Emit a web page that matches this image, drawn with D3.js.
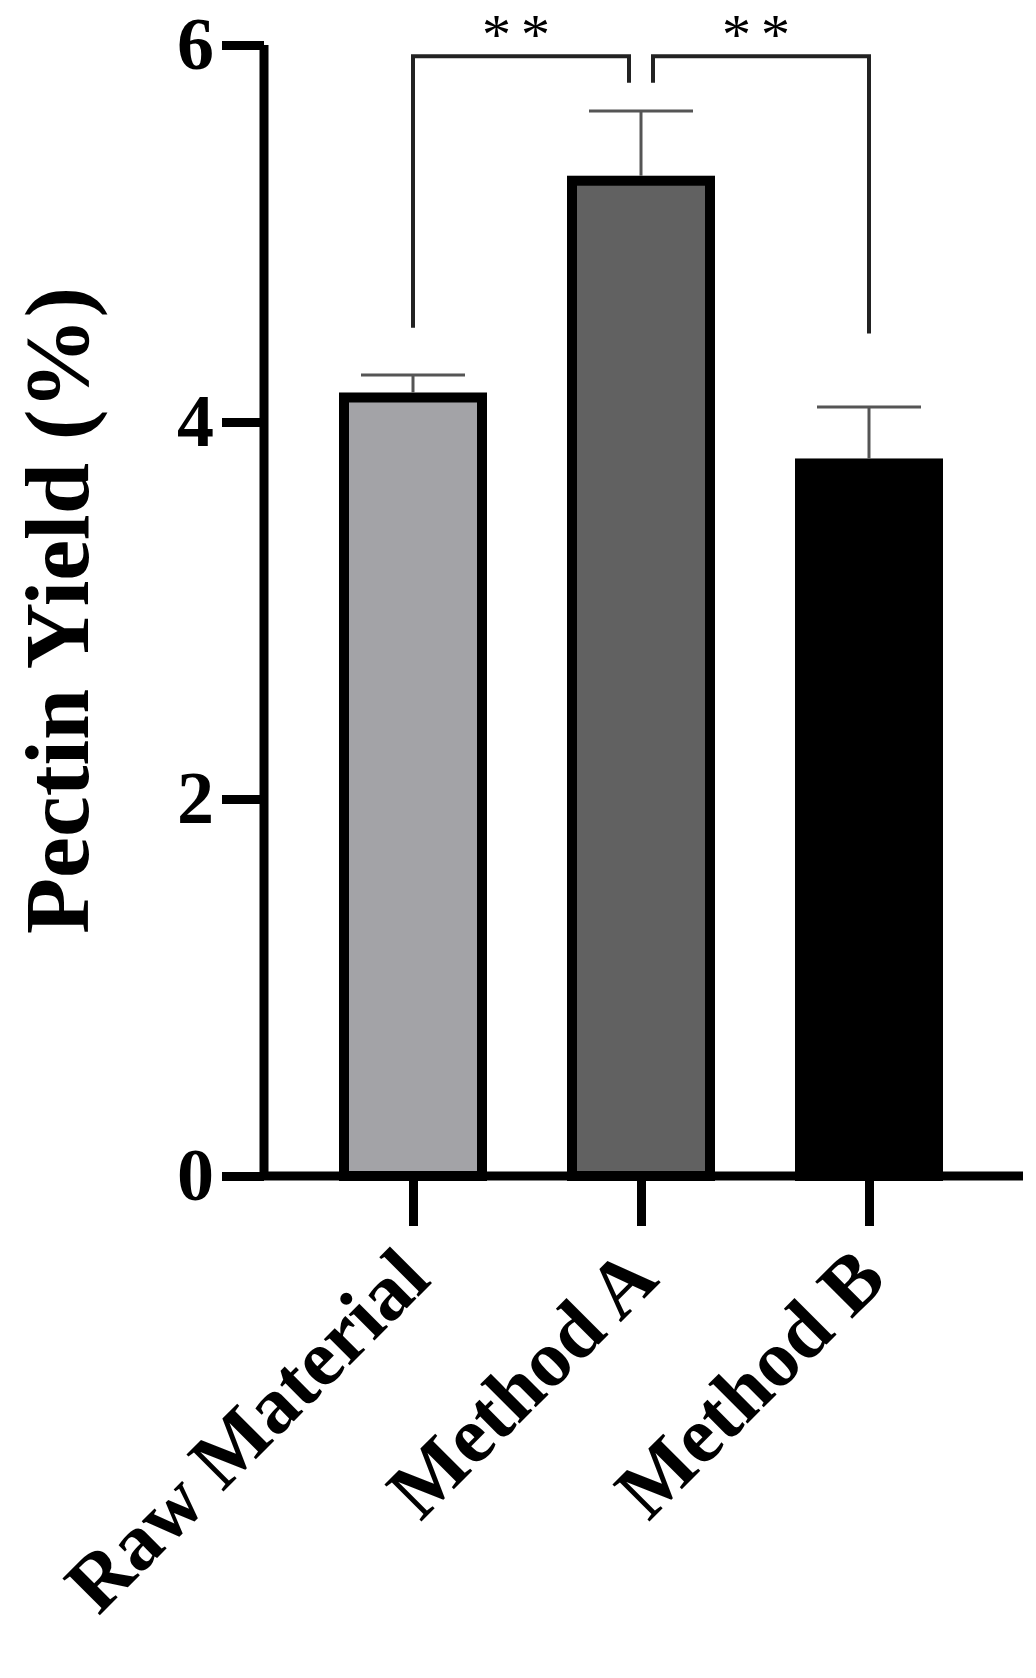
<!DOCTYPE html>
<html><head><meta charset="utf-8">
<script src="https://cdn.jsdelivr.net/npm/d3@7"></script>
<style>body{margin:0;background:#fff}</style>
</head><body>
<div id="chart"></div>
<script>
var categories = ['Raw Material', 'Method A', 'Method B'];
var values = [4.13, 5.28, 3.78];
var errors = [0.12, 0.37, 0.30];
var fills = ['#a3a3a7', '#616161', '#000000'];
var yTicks = [0, 2, 4, 6];

var width = 1036, height = 1678;
var svg = d3.select('#chart').append('svg').attr('width', width).attr('height', height);
var font = '"Liberation Serif", "DejaVu Serif", serif';

var y = d3.scaleLinear().domain([0, 6]).range([1176, 45]);
var x = d3.scalePoint().domain(categories).range([413, 869]);
var barW = 138;

// bars
svg.selectAll('rect.bar').data(values).enter().append('rect')
  .attr('x', function(d, i) { return x(categories[i]) - barW / 2; })
  .attr('y', function(d) { return y(d); })
  .attr('width', barW)
  .attr('height', function(d) { return y(0) - y(d); })
  .attr('fill', function(d, i) { return fills[i]; })
  .attr('stroke', '#000').attr('stroke-width', 10);

// error bars
var eb = svg.selectAll('g.err').data(values).enter().append('g')
  .attr('stroke', '#555').attr('stroke-width', 3);
eb.append('line')
  .attr('x1', function(d, i) { return x(categories[i]); })
  .attr('x2', function(d, i) { return x(categories[i]); })
  .attr('y1', function(d) { return y(d) - 5; })
  .attr('y2', function(d, i) { return y(d + errors[i]); });
eb.append('line')
  .attr('x1', function(d, i) { return x(categories[i]) - 52; })
  .attr('x2', function(d, i) { return x(categories[i]) + 52; })
  .attr('y1', function(d, i) { return y(d + errors[i]); })
  .attr('y2', function(d, i) { return y(d + errors[i]); });

// axes
var yAxis = svg.append('g').attr('transform', 'translate(264,0)')
  .call(d3.axisLeft(y).tickValues(yTicks).tickSize(42).tickPadding(8).tickFormat(d3.format('d')));
var xAxis = svg.append('g').attr('transform', 'translate(0,' + y(0) + ')')
  .call(d3.axisBottom(x).tickSize(50).tickFormat(''));
[yAxis, xAxis].forEach(function(a) {
  a.select('.domain').attr('stroke-width', 9).attr('stroke', '#000');
  a.selectAll('.tick line').attr('stroke-width', 9).attr('stroke', '#000');
});
xAxis.select('.domain').attr('d', 'M264,0H1023');
yAxis.select('.domain').attr('d', 'M0,' + y(6) + 'V' + y(0));
yAxis.selectAll('.tick text').attr('font-family', font).attr('font-weight', 'bold')
  .attr('font-size', 74).attr('fill', '#000').attr('dy', '0.32em');

// category labels
svg.selectAll('text.cat').data(categories).enter().append('text')
  .attr('transform', function(d) { return 'translate(' + (x(d) + 20) + ',1282) rotate(-45)'; })
  .attr('text-anchor', 'end')
  .attr('font-family', font).attr('font-weight', 'bold').attr('font-size', 80)
  .text(function(d) { return d; });

// y title
svg.append('text')
  .attr('transform', 'translate(88,' + y(3) + ') rotate(-90)')
  .attr('text-anchor', 'middle')
  .attr('font-family', font).attr('font-weight', 'bold').attr('font-size', 92)
  .text('Pectin Yield (%)');

// significance brackets
var brackets = [
  { from: 0, to: 1, top: 5.94, leftEnd: 4.5, rightEnd: 5.8, off: [0, -12] },
  { from: 1, to: 2, top: 5.94, leftEnd: 5.8, rightEnd: 4.47, off: [12, 0] }
];
brackets.forEach(function(b) {
  var x1 = x(categories[b.from]) + b.off[0], x2 = x(categories[b.to]) + b.off[1];
  svg.append('path')
    .attr('d', 'M' + x1 + ',' + y(b.leftEnd) + 'V' + y(b.top) + 'H' + x2 + 'V' + y(b.rightEnd))
    .attr('fill', 'none').attr('stroke', '#222').attr('stroke-width', 4);
  svg.append('text')
    .attr('x', (x1 + x2) / 2).attr('y', y(b.top) - 2)
    .attr('text-anchor', 'middle')
    .attr('font-family', font).attr('font-size', 58).attr('letter-spacing', 10)
    .text('**');
});
</script>
</body></html>
